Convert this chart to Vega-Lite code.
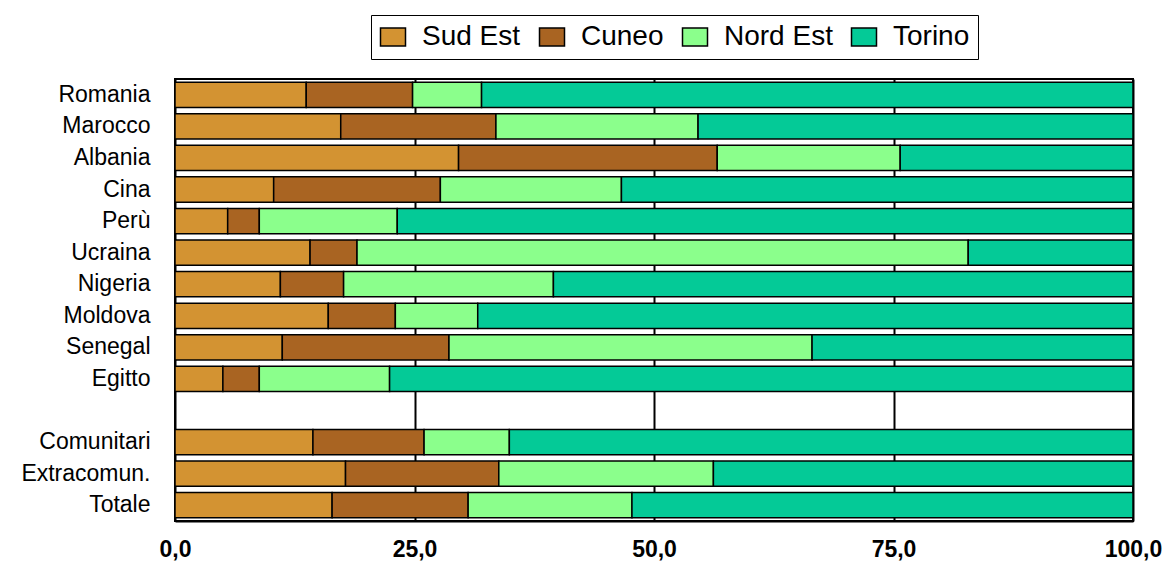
{
  "$schema": "https://vega.github.io/schema/vega-lite/v6.json",
  "width": 958,
  "height": 442,
  "autosize": "none",
  "padding": {"left": 175, "top": 79, "right": 36, "bottom": 40},
  "background": "white",
  "config": {
    "font": "Liberation Sans",
    "view": {"stroke": "black", "strokeWidth": 2}
  },
  "data": {
    "values": [
      {"paese": "Romania", "zona": "Sud Est", "valore": 13.7},
      {"paese": "Romania", "zona": "Cuneo", "valore": 11.1},
      {"paese": "Romania", "zona": "Nord Est", "valore": 7.2},
      {"paese": "Romania", "zona": "Torino", "valore": 68.0},
      {"paese": "Marocco", "zona": "Sud Est", "valore": 17.3},
      {"paese": "Marocco", "zona": "Cuneo", "valore": 16.2},
      {"paese": "Marocco", "zona": "Nord Est", "valore": 21.1},
      {"paese": "Marocco", "zona": "Torino", "valore": 45.4},
      {"paese": "Albania", "zona": "Sud Est", "valore": 29.6},
      {"paese": "Albania", "zona": "Cuneo", "valore": 27.0},
      {"paese": "Albania", "zona": "Nord Est", "valore": 19.1},
      {"paese": "Albania", "zona": "Torino", "valore": 24.3},
      {"paese": "Cina", "zona": "Sud Est", "valore": 10.3},
      {"paese": "Cina", "zona": "Cuneo", "valore": 17.4},
      {"paese": "Cina", "zona": "Nord Est", "valore": 18.9},
      {"paese": "Cina", "zona": "Torino", "valore": 53.4},
      {"paese": "Perù", "zona": "Sud Est", "valore": 5.5},
      {"paese": "Perù", "zona": "Cuneo", "valore": 3.3},
      {"paese": "Perù", "zona": "Nord Est", "valore": 14.4},
      {"paese": "Perù", "zona": "Torino", "valore": 76.8},
      {"paese": "Ucraina", "zona": "Sud Est", "valore": 14.1},
      {"paese": "Ucraina", "zona": "Cuneo", "valore": 4.9},
      {"paese": "Ucraina", "zona": "Nord Est", "valore": 63.8},
      {"paese": "Ucraina", "zona": "Torino", "valore": 17.2},
      {"paese": "Nigeria", "zona": "Sud Est", "valore": 11.0},
      {"paese": "Nigeria", "zona": "Cuneo", "valore": 6.6},
      {"paese": "Nigeria", "zona": "Nord Est", "valore": 21.9},
      {"paese": "Nigeria", "zona": "Torino", "valore": 60.5},
      {"paese": "Moldova", "zona": "Sud Est", "valore": 16.0},
      {"paese": "Moldova", "zona": "Cuneo", "valore": 7.0},
      {"paese": "Moldova", "zona": "Nord Est", "valore": 8.6},
      {"paese": "Moldova", "zona": "Torino", "valore": 68.4},
      {"paese": "Senegal", "zona": "Sud Est", "valore": 11.2},
      {"paese": "Senegal", "zona": "Cuneo", "valore": 17.4},
      {"paese": "Senegal", "zona": "Nord Est", "valore": 37.9},
      {"paese": "Senegal", "zona": "Torino", "valore": 33.5},
      {"paese": "Egitto", "zona": "Sud Est", "valore": 5.0},
      {"paese": "Egitto", "zona": "Cuneo", "valore": 3.8},
      {"paese": "Egitto", "zona": "Nord Est", "valore": 13.6},
      {"paese": "Egitto", "zona": "Torino", "valore": 77.6},
      {"paese": "Comunitari", "zona": "Sud Est", "valore": 14.4},
      {"paese": "Comunitari", "zona": "Cuneo", "valore": 11.6},
      {"paese": "Comunitari", "zona": "Nord Est", "valore": 8.9},
      {"paese": "Comunitari", "zona": "Torino", "valore": 65.1},
      {"paese": "Extracomun.", "zona": "Sud Est", "valore": 17.8},
      {"paese": "Extracomun.", "zona": "Cuneo", "valore": 16.0},
      {"paese": "Extracomun.", "zona": "Nord Est", "valore": 22.4},
      {"paese": "Extracomun.", "zona": "Torino", "valore": 43.8},
      {"paese": "Totale", "zona": "Sud Est", "valore": 16.4},
      {"paese": "Totale", "zona": "Cuneo", "valore": 14.2},
      {"paese": "Totale", "zona": "Nord Est", "valore": 17.1},
      {"paese": "Totale", "zona": "Torino", "valore": 52.3}
    ]
  },
  "transform": [
    {"calculate": "indexof(['Sud Est', 'Cuneo', 'Nord Est', 'Torino'], datum.zona)", "as": "ordine"}
  ],
  "mark": {"type": "bar", "stroke": "black", "strokeWidth": 1.5},
  "encoding": {
    "y": {
      "field": "paese",
      "type": "nominal",
      "scale": {
        "domain": ["Romania", "Marocco", "Albania", "Cina", "Perù", "Ucraina", "Nigeria", "Moldova", "Senegal", "Egitto", "_gap", "Comunitari", "Extracomun.", "Totale"],
        "paddingInner": 0.2,
        "paddingOuter": 0.1
      },
      "axis": {
        "title": null,
        "domain": false,
        "ticks": false,
        "labelPadding": 25,
        "labelFontSize": 23,
        "labelColor": "black",
        "labelFont": "Liberation Sans",
        "labelExpr": "datum.value == '_gap' ? '' : (datum.value == 'Romania' || datum.value == 'Comunitari') ? datum.value + '\u2002' : datum.value"
      }
    },
    "x": {
      "field": "valore",
      "type": "quantitative",
      "stack": "zero",
      "scale": {"domain": [0, 100], "nice": false},
      "axis": {
        "title": null,
        "values": [0, 25, 50, 75, 100],
        "grid": true,
        "gridColor": "black",
        "gridWidth": 2,
        "gridOpacity": 1,
        "domain": true,
        "domainColor": "black",
        "domainWidth": 2,
        "ticks": false,
        "labelPadding": 17,
        "labelFontSize": 23,
        "labelFontWeight": "bold",
        "labelColor": "black",
        "labelFont": "Liberation Sans",
        "labelFlush": false,
        "labelExpr": "replace(format(datum.value, '.1f'), '.', ',')"
      }
    },
    "order": {"field": "ordine", "type": "quantitative"},
    "color": {
      "field": "zona",
      "type": "nominal",
      "scale": {
        "domain": ["Sud Est", "Cuneo", "Nord Est", "Torino"],
        "range": ["#D39332", "#A96422", "#8BFF8C", "#04CA97"]
      },
      "legend": {
        "title": null,
        "orient": "none",
        "direction": "horizontal",
        "legendX": 196,
        "legendY": -64,
        "strokeColor": "black",
        "fillColor": "white",
        "padding": 8,
        "symbolType": "M-1,-0.72H1V0.72H-1Z",
        "symbolSize": 625,
        "symbolStrokeColor": "black",
        "symbolStrokeWidth": 1.5,
        "symbolOpacity": 1,
        "labelFontSize": 28,
        "labelFont": "Liberation Sans",
        "labelColor": "black",
        "labelOffset": 15,
        "columnPadding": 15,
        "labelExpr": "datum.label == 'Cuneo' ? '\u2002' + datum.label : datum.label"
      }
    }
  }
}
